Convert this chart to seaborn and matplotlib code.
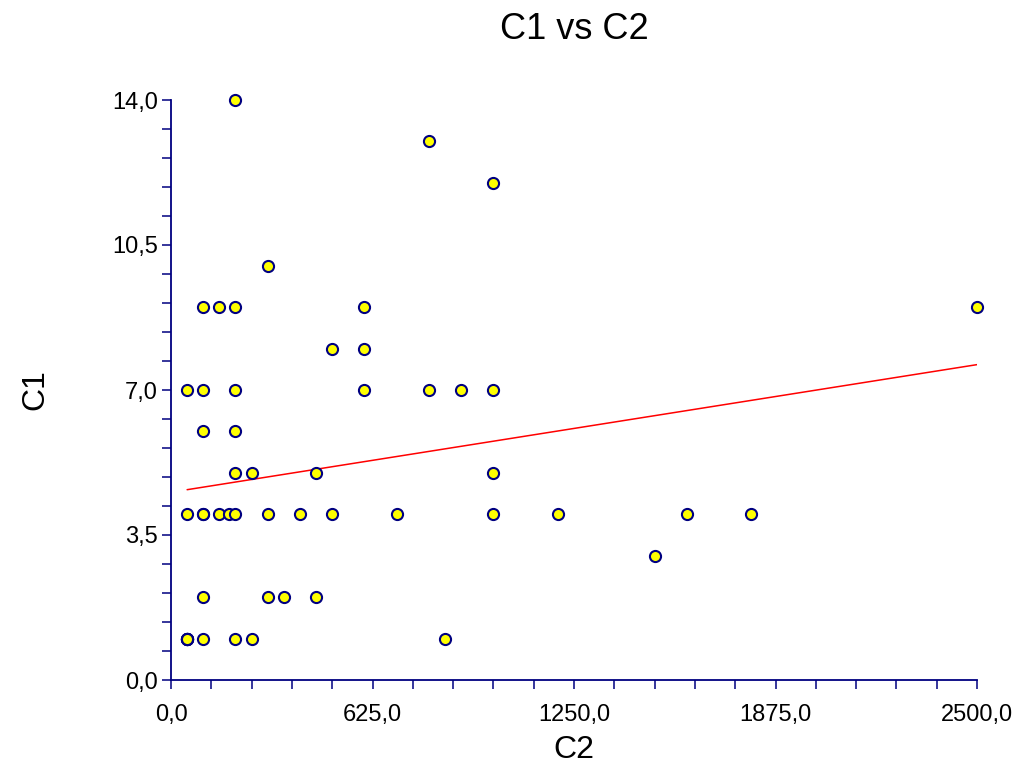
import numpy as np
import pandas as pd
import matplotlib
matplotlib.use("Agg")
import matplotlib.pyplot as plt
from matplotlib.ticker import MultipleLocator, FuncFormatter
import seaborn as sns

# Observations: C2 (x) and C1 (y); repeated pairs are listed once per observation
c2 = [200, 800, 1000, 300,
      100, 150, 200, 600, 2500,
      500, 600,
      50, 100, 200, 600, 800, 900, 1000,
      100, 200,
      200, 250, 450, 1000,
      50, 100, 100, 150, 180, 200, 300, 400, 500, 700, 1000, 1200, 1600, 1800,
      1500,
      100, 300, 350, 450,
      50, 50, 50, 50, 50, 100, 200, 250, 850]
c1 = [14, 13, 12, 10,
      9, 9, 9, 9, 9,
      8, 8,
      7, 7, 7, 7, 7, 7, 7,
      6, 6,
      5, 5, 5, 5,
      4, 4, 4, 4, 4, 4, 4, 4, 4, 4, 4, 4, 4, 4,
      3,
      2, 2, 2, 2,
      1, 1, 1, 1, 1, 1, 1, 1, 1]

title = "C1 vs C2"
x_label = "C2"
y_label = "C1"

df = pd.DataFrame({"C2": c2, "C1": c1})

sns.set_theme(style="white")
plt.rcParams["font.family"] = ["Liberation Sans", "DejaVu Sans"]
plt.rcParams["text.color"] = "black"
plt.rcParams["axes.labelcolor"] = "black"

navy = "#000080"

fig = plt.figure(figsize=(10.26, 7.73), dpi=100)
ax = fig.add_axes([171 / 1026, 1 - 680 / 773, (977 - 171) / 1026, (680 - 100) / 773])

sns.regplot(data=df, x="C2", y="C1", scatter=False, ci=None, truncate=True,
            line_kws={"color": "#ff0000", "lw": 1.1}, ax=ax)
sns.scatterplot(data=df, x="C2", y="C1", ax=ax, s=64, marker="o",
                color="#ffff00", edgecolor=navy, linewidth=1.5, zorder=3,
                clip_on=False)

ax.set_xlim(0, 2500)
ax.set_ylim(0, 14)

ax.xaxis.set_major_locator(MultipleLocator(625))
ax.xaxis.set_minor_locator(MultipleLocator(125))
ax.yaxis.set_major_locator(MultipleLocator(3.5))
ax.yaxis.set_minor_locator(MultipleLocator(0.7))

comma = FuncFormatter(lambda v, pos: f"{v:.1f}".replace(".", ","))
ax.xaxis.set_major_formatter(comma)
ax.yaxis.set_major_formatter(comma)

for side in ("top", "right"):
    ax.spines[side].set_visible(False)
for side in ("left", "bottom"):
    ax.spines[side].set_color(navy)
    ax.spines[side].set_linewidth(1.3)

ax.tick_params(axis="both", which="both", direction="out", color=navy,
               width=1.1, length=6.5, labelsize=17, labelcolor="black")
ax.tick_params(axis="x", which="both", bottom=True, pad=11)
ax.tick_params(axis="y", which="both", left=True, pad=3)

ax.set_xlabel(x_label, fontsize=23, labelpad=6, color="black")
ax.set_ylabel(y_label, fontsize=23, labelpad=44, color="black")
fig.suptitle(title, fontsize=26, x=0.56, y=0.985, color="black")

fig.savefig("out.png", dpi=100)
